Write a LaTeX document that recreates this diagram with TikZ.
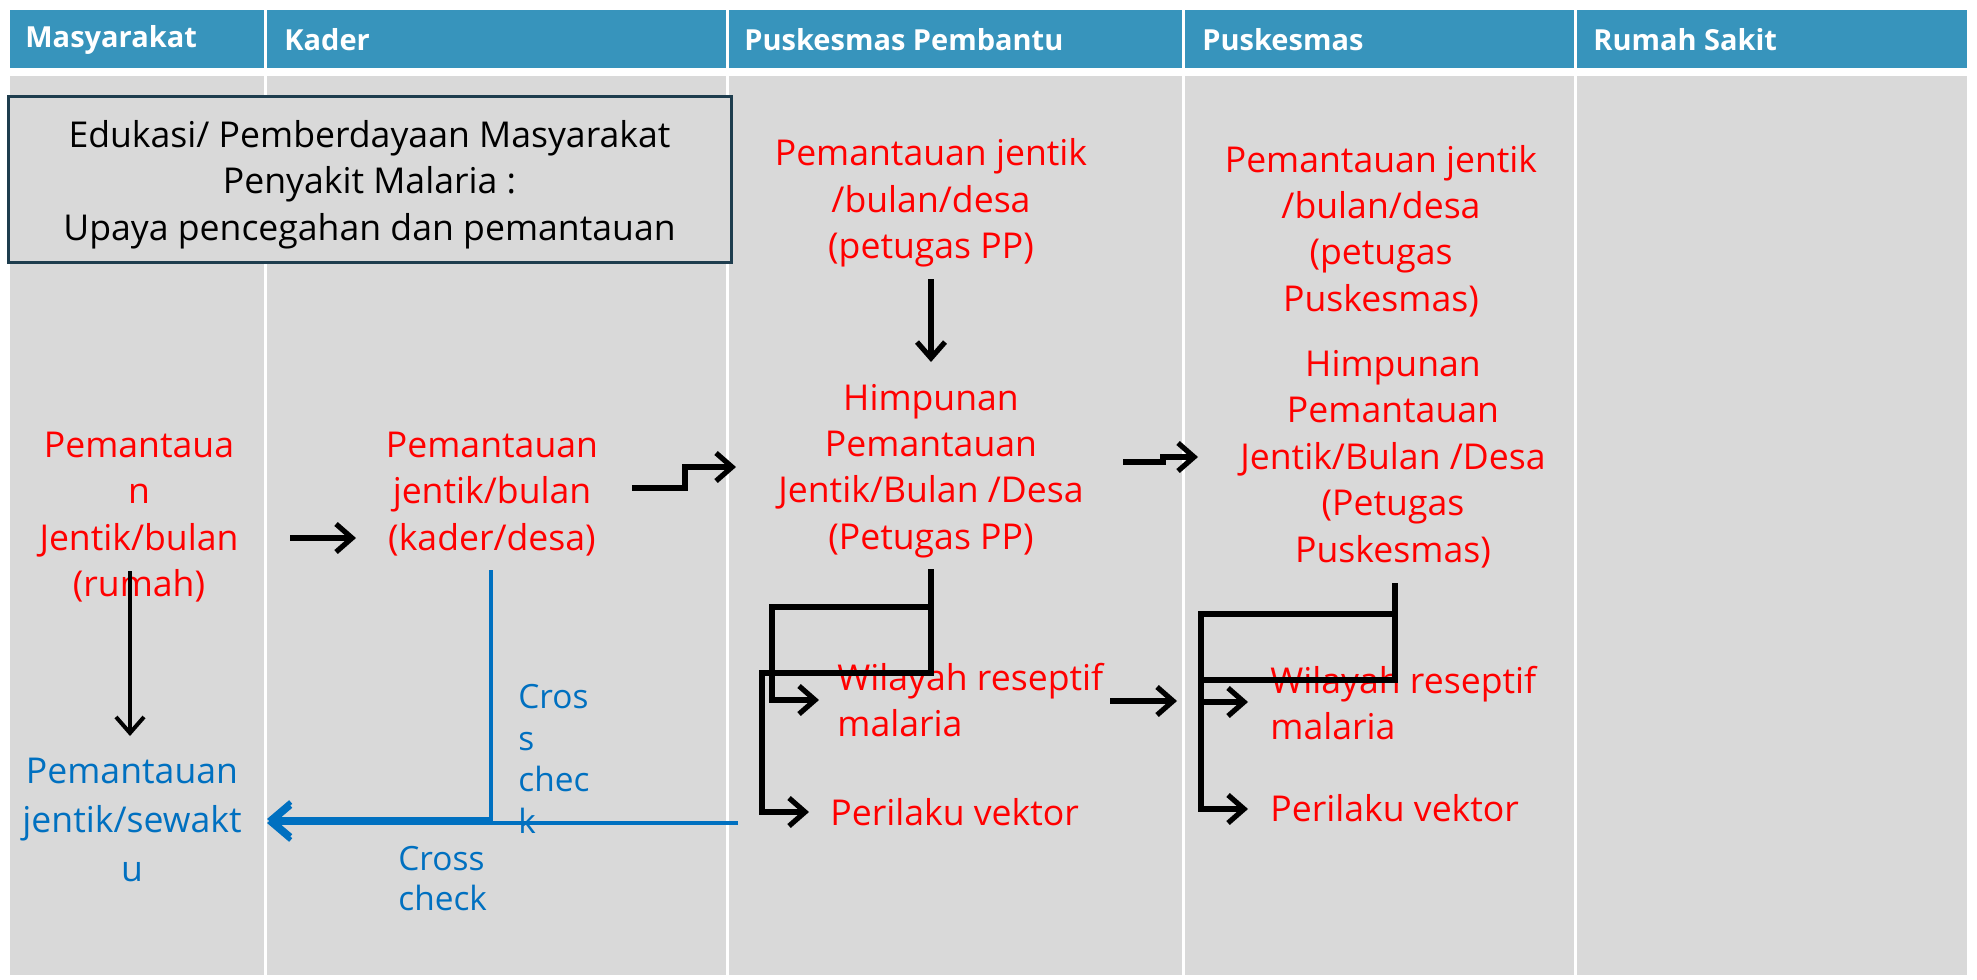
\documentclass[tikz,border=0pt]{standalone}
\usepackage{fontspec}
\setmainfont{Open Sans}
\usepackage{tikz}
\usetikzlibrary{arrows.meta}

\definecolor{hdrblue}{HTML}{3794BC}
\definecolor{cellgray}{HTML}{D9D9D9}
\definecolor{txtred}{HTML}{FF0000}
\definecolor{txtblue}{HTML}{0070C0}
\definecolor{boxedge}{HTML}{1E3D4E}

\begin{document}
\begin{tikzpicture}[x=0.5pt, y=-0.5pt,
    every node/.style={inner sep=0pt, font=\fontsize{17.8}{23.2}\selectfont},
    redtxt/.style={text=txtred, align=center},
    bluetxt/.style={text=txtblue, align=center},
    hdr/.style={anchor=west, text=white, font=\fontsize{14.5}{17}\selectfont\bfseries},
    flow/.style={line width=2.6pt, -{Straight Barb[length=8pt, width=14pt]}},
    xcheck/.style={draw=txtblue, line width=2.4pt, -{Straight Barb[length=10pt, width=17pt]}}]
    \useasboundingbox (0,0) rectangle (1977,980);

    % Swimlanes
    \foreach \xa/\xb in {10/264, 267/726, 729/1182, 1185/1574, 1577/1967}{
        \fill[hdrblue] (\xa,10) rectangle (\xb,68);
        \fill[cellgray] (\xa,76) rectangle (\xb,975);
    }
    \node[hdr] (H_MS) at (25,40) {Masyarakat};
    \node[hdr] (H_KD) at (284,40) {Kader};
    \node[hdr] (H_PP) at (744,40) {Puskesmas Pembantu};
    \node[hdr] (H_PKM) at (1202,40) {Puskesmas};
    \node[hdr] (H_RS) at (1593,40) {Rumah Sakit};

    % Edukasi box
    \node[draw=boxedge, line width=1.5pt, fill=cellgray, minimum width=361.5pt, minimum height=83pt, align=center]
        (EDU) at (369.5,179) {\rule{0pt}{19pt}Edukasi/ Pemberdayaan Masyarakat\\Penyakit Malaria :\\Upaya pencegahan dan pemantauan};

    % Pemantauan jentik
    \node[redtxt] (PJ_PP) at (931,203) {Pemantauan jentik\\/bulan/desa\\(petugas PP)};
    \node[redtxt] (PJ_PKM) at (1381,231) {Pemantauan jentik\\/bulan/desa\\(petugas\\Puskesmas)};
    \node[redtxt] (HP_PP) at (931,471) {Himpunan\\Pemantauan\\Jentik/Bulan /Desa\\(Petugas PP)};
    \node[redtxt] (HP_PKM) at (1393,459) {Himpunan\\Pemantauan\\Jentik/Bulan /Desa\\(Petugas\\Puskesmas)};
    \node[redtxt] (PJ_R) at (139,517) {Pemantaua\\n\\Jentik/bulan\\(rumah)};
    \node[redtxt] (PJ_K) at (492,494) {Pemantauan\\jentik/bulan\\(kader/desa)};
    \node[redtxt, anchor=west, align=left] (WR_PP) at (837,700) {Wilayah reseptif\\malaria};
    \node[redtxt, anchor=west] (PV_PP) at (830,812) {Perilaku vektor};
    \node[redtxt, anchor=west, align=left] (WR_PKM) at (1270,703) {Wilayah reseptif\\malaria};
    \node[redtxt, anchor=west] (PV_PKM) at (1270,808) {Perilaku vektor};

    % Cross check
    \node[bluetxt, font=\fontsize{17.8}{24.5}\selectfont] (PJ_S) at (132,820) {Pemantauan\\jentik/sewakt\\u};
    \node[bluetxt, anchor=west, align=left, font=\fontsize{16.7}{20.8}\selectfont] (CC_V) at (518,759) {Cros\\s\\chec\\k};
    \node[bluetxt, anchor=west, align=left, font=\fontsize{16.7}{20}\selectfont] (CC_H) at (398,879) {Cross\\check};

    % Connector ends
    \coordinate (R_out) at (290,538); \coordinate (K_in) at (356,538);
    \coordinate (R_dn) at (130,571); \coordinate (S_in) at (130,736);
    \coordinate (K_out) at (632,488); \coordinate (HPP_in) at (736,467);
    \coordinate (PJPP_out) at (931,279); \coordinate (HPP_top) at (931,362);
    \coordinate (HPP_out) at (1123,462); \coordinate (HPKM_in) at (1198,457);
    \coordinate (HPP_dn) at (931,569); \coordinate (HPKM_dn) at (1395,583);
    \coordinate (WRPP_in) at (819,700); \coordinate (PVPP_in) at (809,812);
    \coordinate (WRPP_out) at (1110,701); \coordinate (PKM_in) at (1177,701);
    \coordinate (WRPKM_in) at (1248,702); \coordinate (PVPKM_in) at (1248,809);
    \coordinate (K_dn) at (491,570); \coordinate (S_out) at (267,819); \coordinate (PP_back) at (738,823);

    % Arrows - Solid Lines
    \draw[flow] (R_out) -- (K_in); \draw[flow, line width=2pt] (R_dn) -- (S_in);
    \draw[flow] (K_out) -- ++(53,0) |- (HPP_in); \draw[flow] (PJPP_out) -- (HPP_top);
    \draw[flow] (HPP_out) -- ++(40,0) |- (HPKM_in);

    \draw[flow] (HPP_dn) |- (772,607) |- (WRPP_in); \draw[flow] (HPP_dn) |- (762,673) |- (PVPP_in);
    \draw[flow] (WRPP_out) -- (PKM_in);
    \draw[flow] (HPKM_dn) |- (1201,614) |- (WRPKM_in); \draw[flow] (HPKM_dn) |- (1201,680) |- (PVPKM_in);

    \draw[xcheck] (K_dn) |- (S_out); \draw[xcheck] (PP_back) -- (PP_back -| S_out);

\end{tikzpicture}
\end{document}
